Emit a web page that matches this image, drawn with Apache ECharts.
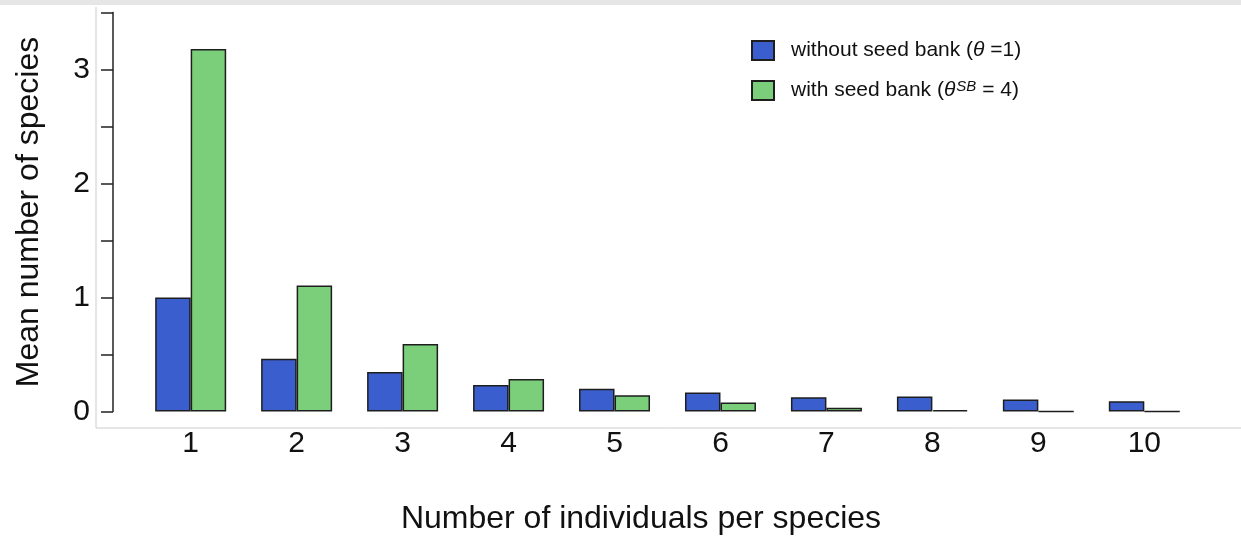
<!DOCTYPE html>
<html>
<head>
<meta charset="utf-8">
<script src="https://cdn.jsdelivr.net/npm/echarts@6/dist/echarts.min.js"></script>
<style>
html,body{margin:0;padding:0;background:#fff;}
#chart{width:1241px;height:538px;}
</style>
</head>
<body>
<div id="chart"></div>
<script>
var categories = ['1','2','3','4','5','6','7','8','9','10'];
var withoutSeedBank = [1.0, 0.463, 0.346, 0.232, 0.200, 0.167, 0.126, 0.131, 0.105, 0.091];
var withSeedBank = [3.18, 1.106, 0.592, 0.285, 0.143, 0.079, 0.032, 0.013, 0.002, 0.001];
var yTickLabels = ['0','1','2','3'];
var seriesNames = ['without seed bank', 'with seed bank'];

var FONT = 'Liberation Sans, Arial, Helvetica, sans-serif';
var chart = echarts.init(document.getElementById('chart'), null, {renderer:'canvas'});
var option = {
  animation: false,
  backgroundColor: '#fff',
  textStyle: {fontFamily: FONT},
  graphic: [
    {type:'rect', shape:{x:0,y:0,width:1241,height:5}, style:{fill:'#e6e6e6'}, silent:true, z:-1},
    {type:'line', shape:{x1:96,y1:7,x2:96,y2:428}, style:{stroke:'#cccccc',lineWidth:1}, silent:true, z:-1},
    {type:'line', shape:{x1:96,y1:428,x2:1241,y2:428}, style:{stroke:'#cccccc',lineWidth:1}, silent:true, z:-1}
  ],
  legend: {
    left: 746, top: 35, orient: 'vertical',
    itemWidth: 22, itemHeight: 19, itemGap: 18,
    icon: 'rect',
    data: seriesNames,
    formatter: function(name){
      if (name === seriesNames[0]) return 'without seed bank ({it|θ} =1)';
      return 'with seed bank ({it|θ}{sup|SB} = 4)';
    },
    textStyle: {
      fontFamily: FONT, fontSize: 21, color: '#111', padding:[0,0,0,12],
      rich: {
        it: {fontFamily: FONT, fontSize: 21, fontStyle: 'italic', color:'#111'},
        sup: {fontFamily: FONT, fontSize: 15, fontStyle: 'italic', color:'#111', verticalAlign:'top', padding:[0,0,8,1]}
      }
    }
  },
  grid: {left: 137.7, top: 12.5, width: 1059.6, height: 399, containLabel: false, outerBoundsMode: 'none'},
  xAxis: {
    type: 'category',
    data: categories,
    axisLine: {show: false},
    axisTick: {show: false},
    axisLabel: {fontSize: 30, color: '#111', margin: 17, fontFamily: FONT},
    name: 'Number of individuals per species',
    nameLocation: 'middle',
    nameGap: 92,
    nameTextStyle: {fontSize: 32, color: '#111', fontFamily: FONT, padding:[0,53,0,0]}
  },
  yAxis: {
    type: 'value',
    min: 0, max: 3.5, interval: 0.5,
    offset: 24.7,
    axisLine: {show: true, lineStyle: {color: '#222', width: 1.5}},
    axisTick: {show: true, length: 12, lineStyle: {color: '#222', width: 1.5}},
    splitLine: {show: false},
    axisLabel: {
      fontSize: 30, color: '#111', margin: 23, fontFamily: FONT,
      formatter: function(v){
        var i = yTickLabels.indexOf(String(v));
        return i >= 0 ? yTickLabels[i] : '';
      }
    },
    name: 'Mean number of species',
    nameLocation: 'middle',
    nameGap: 68,
    nameTextStyle: {fontSize: 32, color: '#111', fontFamily: FONT}
  },
  series: [
    {
      name: seriesNames[0], type: 'bar', data: withoutSeedBank,
      barGap: '0%', barCategoryGap: '33%',
      itemStyle: {color: '#3a5ecd', borderColor: '#1e1e1e', borderWidth: 1.5}
    },
    {
      name: seriesNames[1], type: 'bar', data: withSeedBank,
      barGap: '0%', barCategoryGap: '33%',
      itemStyle: {color: '#7bcf7b', borderColor: '#1e1e1e', borderWidth: 1.5}
    }
  ]
};
chart.setOption(option);
</script>
</body>
</html>
